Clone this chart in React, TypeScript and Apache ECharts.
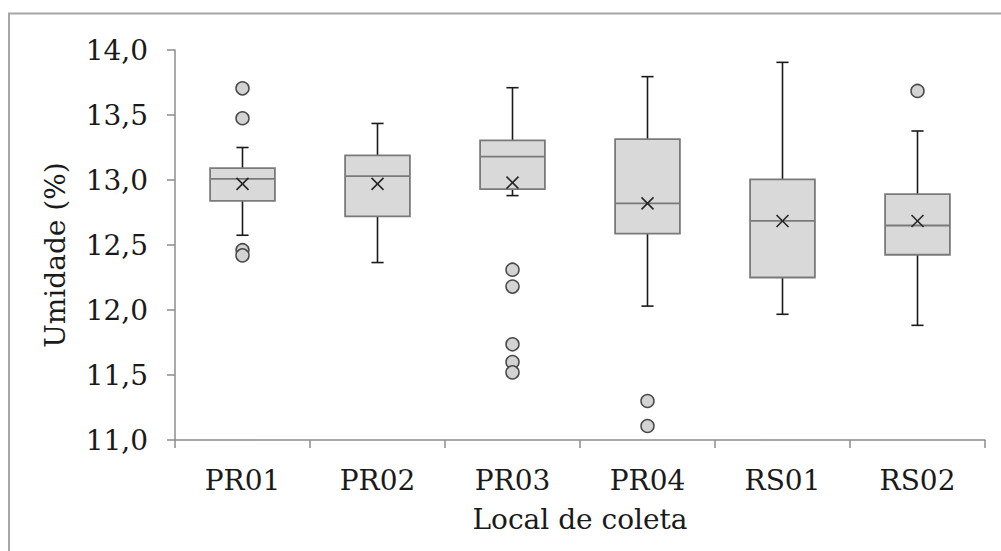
import React, { useEffect, useRef } from "react";
import * as echarts from "echarts";

const categories = ["PR01", "PR02", "PR03", "PR04", "RS01", "RS02"];
const whiskerLow = [12.575, 12.365, 12.88, 12.03, 11.967, 11.882];
const q1 = [12.84, 12.72, 12.93, 12.587, 12.25, 12.425];
const median = [13.008, 13.03, 13.18, 12.82, 12.685, 12.65];
const q3 = [13.092, 13.19, 13.305, 13.315, 13.005, 12.892];
const whiskerHigh = [13.25, 13.435, 13.71, 13.795, 13.905, 13.377];
const means = [12.97, 12.97, 12.98, 12.82, 12.685, 12.685];
const outliers: [string, number][] = [
  ["PR01", 13.705], ["PR01", 13.475], ["PR01", 12.46], ["PR01", 12.42],
  ["PR03", 12.31], ["PR03", 12.18], ["PR03", 11.736], ["PR03", 11.6], ["PR03", 11.52],
  ["PR04", 11.3], ["PR04", 11.108],
  ["RS02", 13.685],
];
const yTicks = { min: 11, max: 14, interval: 0.5 };

const FONT = "DejaVu Serif";
const FS = 28;

export default function App() {
  const ref = useRef<HTMLDivElement>(null);
  useEffect(() => {
    if (!ref.current) return;
    const chart = echarts.init(ref.current, null, { renderer: "svg" });
    const boxData = categories.map((c, i) => [i, whiskerLow[i], q1[i], median[i], q3[i], whiskerHigh[i], means[i]]);
    const renderItem = (params: any, api: any) => {
      const idx = api.value(0);
      const band = api.size([1, 0])[0];
      const bw = band * 0.48;
      const cap = band * 0.09;
      const pLow = api.coord([idx, api.value(1)]);
      const pQ1 = api.coord([idx, api.value(2)]);
      const pMed = api.coord([idx, api.value(3)]);
      const pQ3 = api.coord([idx, api.value(4)]);
      const pHigh = api.coord([idx, api.value(5)]);
      const pMean = api.coord([idx, api.value(6)]);
      const x = pLow[0];
      const black = { stroke: "#1a1a1a", lineWidth: 1.6 };
      const gray = { stroke: "#7a7a7a", lineWidth: 1.8 };
      const m = 6;
      return {
        type: "group",
        children: [
          { type: "line", shape: { x1: x, y1: pHigh[1], x2: x, y2: pQ3[1] }, style: black },
          { type: "line", shape: { x1: x, y1: pQ1[1], x2: x, y2: pLow[1] }, style: black },
          { type: "line", shape: { x1: x - cap / 2, y1: pHigh[1], x2: x + cap / 2, y2: pHigh[1] }, style: black },
          { type: "line", shape: { x1: x - cap / 2, y1: pLow[1], x2: x + cap / 2, y2: pLow[1] }, style: black },
          {
            type: "rect",
            shape: { x: x - bw / 2, y: pQ3[1], width: bw, height: pQ1[1] - pQ3[1] },
            style: { fill: "#d9d9d9", ...gray },
          },
          { type: "line", shape: { x1: x - bw / 2, y1: pMed[1], x2: x + bw / 2, y2: pMed[1] }, style: gray },
          { type: "line", shape: { x1: x - m, y1: pMean[1] - m, x2: x + m, y2: pMean[1] + m }, style: { stroke: "#262626", lineWidth: 1.6 } },
          { type: "line", shape: { x1: x - m, y1: pMean[1] + m, x2: x + m, y2: pMean[1] - m }, style: { stroke: "#262626", lineWidth: 1.6 } },
        ],
      };
    };
    chart.setOption({
      animation: false,
      backgroundColor: "#ffffff",
      textStyle: { fontFamily: FONT },
      grid: { left: 175, right: 16, top: 50, bottom: 111, containLabel: false },
      graphic: [
        {
          type: "rect",
          shape: { x: 9, y: 13.5, width: 1100, height: 700 },
          style: { fill: "none", stroke: "#a6a6a6", lineWidth: 2 },
          silent: true,
        },
      ],
      xAxis: {
        type: "category",
        data: categories,
        name: "Local de coleta",
        nameLocation: "middle",
        nameGap: 65,
        nameTextStyle: { fontFamily: FONT, fontSize: FS, color: "#1a1a1a" },
        axisLine: { lineStyle: { color: "#8c8c8c", width: 1.5 } },
        axisTick: { show: true, length: 8, lineStyle: { color: "#8c8c8c", width: 1.5 } },
        axisLabel: { fontFamily: FONT, fontSize: FS, color: "#1a1a1a", margin: 26 },
        splitLine: { show: false },
      },
      yAxis: {
        type: "value",
        min: yTicks.min,
        max: yTicks.max,
        interval: yTicks.interval,
        name: "Umidade (%)",
        nameLocation: "middle",
        nameGap: 106,
        nameTextStyle: { fontFamily: FONT, fontSize: FS, color: "#1a1a1a", padding: [0, 20, 0, 0] },
        axisLine: { show: true, lineStyle: { color: "#8c8c8c", width: 1.5 } },
        axisTick: { show: true, length: 8, lineStyle: { color: "#8c8c8c", width: 1.5 } },
        axisLabel: {
          fontFamily: FONT,
          fontSize: FS,
          color: "#1a1a1a",
          margin: 27,
          formatter: (v: number) => v.toFixed(1).replace(".", ","),
        },
        splitLine: { show: false },
      },
      series: [
        {
          type: "custom",
          renderItem,
          data: boxData,
          encode: { x: 0, y: [1, 2, 3, 4, 5, 6] },
          z: 2,
        },
        {
          type: "scatter",
          data: outliers,
          symbol: "circle",
          symbolSize: 13,
          itemStyle: { color: "#d3d3d3", borderColor: "#4a4a4a", borderWidth: 1.5, opacity: 1 },
          z: 3,
        },
      ],
    });
    return () => chart.dispose();
  }, []);
  return <div ref={ref} style={{ position: "fixed", left: 0, top: 0, width: 1001, height: 551 }} />;
}
